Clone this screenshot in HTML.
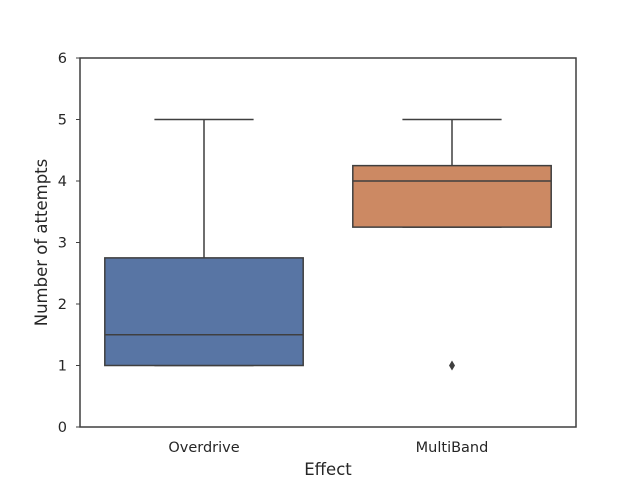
<!DOCTYPE html>
<html><head><meta charset="utf-8"><style>
body{margin:0;background:#fff;}
svg text{font-family:"DejaVu Sans","Liberation Sans",sans-serif;fill:#262626;}
</style></head><body>
<svg id="chart" width="640" height="480"></svg>
<script>
const categories = ["Overdrive", "MultiBand"];
const q1 = [1, 3.25];
const medians = [1.5, 4];
const q3 = [2.75, 4.25];
const whiskLow = [1, 3.25];
const whiskHigh = [5, 5];
const outliers = [[], [1]];
const colors = ["#5875a4", "#cc8963"];
const yTicks = [0, 1, 2, 3, 4, 5, 6];

const L = 80, R = 576, T = 58, B = 427;
const yMin = 0, yMax = 6;
const y = v => B - (v - yMin) / (yMax - yMin) * (B - T);
const band = (R - L) / categories.length;
const xc = i => L + band * (i + 0.5);
const boxW = band * 0.8;
const NS = "http://www.w3.org/2000/svg";
const svg = document.getElementById("chart");
function mk(tag, attrs, parent) {
  const e = document.createElementNS(NS, tag);
  for (const k in attrs) e.setAttribute(k, attrs[k]);
  (parent || svg).appendChild(e);
  return e;
}
const stroke = "#3f3f3f";

yTicks.forEach(t => {
  const tk = mk("text", {x: L - 13, y: y(t) + 5, "text-anchor": "end", "font-size": 14.5});
  tk.textContent = t;
  
  
  const ln = mk("line", {x1: L - 4, x2: L, y1: y(t), y2: y(t), stroke: stroke, "stroke-width": 1});
  
  
});

categories.forEach((c, i) => {
  const g = mk("g", {});
  
  
  const cx = xc(i);
  mk("line", {x1: cx, x2: cx, y1: y(q3[i]), y2: y(whiskHigh[i]), stroke: stroke, "stroke-width": 1.5}, g);
  mk("line", {x1: cx, x2: cx, y1: y(q1[i]), y2: y(whiskLow[i]), stroke: stroke, "stroke-width": 1.5}, g);
  mk("line", {x1: cx - boxW / 4, x2: cx + boxW / 4, y1: y(whiskHigh[i]), y2: y(whiskHigh[i]), stroke: stroke, "stroke-width": 1.5}, g);
  mk("line", {x1: cx - boxW / 4, x2: cx + boxW / 4, y1: y(whiskLow[i]), y2: y(whiskLow[i]), stroke: stroke, "stroke-width": 1.5}, g);
  mk("rect", {x: cx - boxW / 2, y: y(q3[i]), width: boxW, height: y(q1[i]) - y(q3[i]), fill: colors[i], stroke: stroke, "stroke-width": 1.5}, g);
  mk("line", {x1: cx - boxW / 2, x2: cx + boxW / 2, y1: y(medians[i]), y2: y(medians[i]), stroke: stroke, "stroke-width": 1.5}, g);
  outliers[i].forEach(o => {
    const p = mk("path", {d: `M${cx} ${y(o) - 5} L${cx + 3} ${y(o)} L${cx} ${y(o) + 5} L${cx - 3} ${y(o)} Z`, fill: stroke}, g);
    
    
  });
  const lbl = mk("text", {x: cx, y: B + 25, "text-anchor": "middle", "font-size": 14.5});
  lbl.textContent = c;
  
  
});

const frame = mk("rect", {x: L, y: T, width: R - L, height: B - T, fill: "none", stroke: stroke, "stroke-width": 1.5});



const xt = mk("text", {x: (L + R) / 2, y: 475, "text-anchor": "middle", "font-size": 16.5});
xt.textContent = "Effect";


const yt = mk("text", {x: 0, y: 0, "text-anchor": "middle", "font-size": 16.5, transform: `translate(47 ${(T + B) / 2}) rotate(-90)`});
yt.textContent = "Number of attempts";


</script>
</body></html>
